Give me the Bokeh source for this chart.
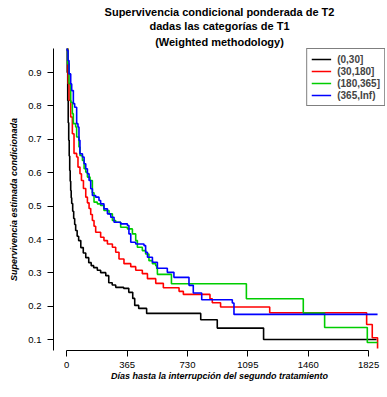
from bokeh.plotting import figure
from bokeh.models import FixedTicker, Range1d, Legend, LegendItem, Title
from bokeh.embed import file_html
from bokeh.resources import INLINE

groups = ["(0,30]", "(30,180]", "(180,365]", "(365,Inf)"]
colors = ["#000000", "#FF0000", "#00CD00", "#0000FF"]

title_lines = ["Supervivencia condicional ponderada de T2",
               "dadas las categorías de T1",
               "(Weighted methodology)"]

x_ticks = [0, 365, 730, 1095, 1460, 1825]
y_ticks = [0.1, 0.2, 0.3, 0.4, 0.5, 0.6, 0.7, 0.8, 0.9]

t_g1 = [0, 3, 6, 9, 12, 15, 18, 21, 24, 27, 30, 36, 42, 48, 54, 63, 72, 85, 100, 115,
        133, 148, 163, 185, 205, 236, 254, 275, 296, 344, 375, 399, 411, 435, 483, 810,
        910, 1190, 1873]
s_g1 = [1.0, 0.90, 0.816, 0.75, 0.697, 0.65, 0.607, 0.575, 0.547, 0.525, 0.508, 0.485,
        0.463, 0.445, 0.427, 0.41, 0.397, 0.376, 0.36, 0.346, 0.331, 0.322, 0.316, 0.308,
        0.301, 0.292, 0.271, 0.264, 0.257, 0.254, 0.242, 0.224, 0.203, 0.194, 0.179, 0.160,
        0.135, 0.101, 0.101]

t_g2 = [0, 8, 14, 24, 34, 44, 60, 68, 80, 89, 101, 115, 125, 135, 145, 155, 165, 175, 205,
        225, 246, 276, 296, 316, 346, 387, 417, 457, 488, 538, 584, 679, 705, 866, 880, 930,
        1227, 1813, 1847, 1879]
s_g2 = [1.0, 0.867, 0.817, 0.767, 0.717, 0.658, 0.647, 0.617, 0.597, 0.577, 0.553, 0.527,
        0.51, 0.493, 0.475, 0.457, 0.44, 0.422, 0.407, 0.397, 0.387, 0.377, 0.362, 0.342,
        0.328, 0.319, 0.308, 0.298, 0.283, 0.269, 0.256, 0.245, 0.236, 0.223, 0.211, 0.198,
        0.181, 0.146, 0.106, 0.074]

t_g3 = [0, 6, 14, 24, 34, 40, 54, 60, 74, 80, 95, 105, 115, 125, 141, 155, 165, 185, 205,
        225, 256, 276, 296, 326, 367, 397, 417, 427, 457, 477, 497, 518, 538, 544, 548, 633,
        1086, 1430, 1559, 1817, 1879]
s_g3 = [1.0, 0.926, 0.867, 0.811, 0.777, 0.747, 0.737, 0.707, 0.677, 0.652, 0.637, 0.612,
        0.602, 0.587, 0.577, 0.54, 0.512, 0.507, 0.502, 0.487, 0.477, 0.457, 0.452, 0.437,
        0.432, 0.417, 0.397, 0.377, 0.367, 0.357, 0.337, 0.328, 0.322, 0.313, 0.296, 0.268,
        0.223, 0.180, 0.137, 0.092, 0.092]

t_g4 = [0, 3, 8, 14, 24, 30, 40, 48, 60, 68, 74, 80, 95, 105, 115, 125, 135, 145, 155, 175,
        195, 205, 225, 246, 266, 286, 326, 367, 376, 387, 417, 467, 477, 488, 518, 548, 608,
        648, 739, 765, 816, 1001, 1011, 1879]
s_g4 = [1.0, 0.966, 0.936, 0.896, 0.866, 0.846, 0.807, 0.796, 0.747, 0.737, 0.697, 0.657,
        0.647, 0.627, 0.612, 0.597, 0.577, 0.552, 0.532, 0.527, 0.517, 0.507, 0.492, 0.477,
        0.467, 0.452, 0.447, 0.442, 0.417, 0.392, 0.387, 0.382, 0.362, 0.347, 0.332, 0.314,
        0.302, 0.287, 0.263, 0.240, 0.220, 0.210, 0.176, 0.176]

times = [t_g1, t_g2, t_g3, t_g4]
survs = [s_g1, s_g2, s_g3, s_g4]

FONT = "Liberation Sans"

p = figure(width=385, height=395, output_backend="svg", toolbar_location=None,
           x_range=Range1d(-80, 1927), y_range=Range1d(0.068, 0.972),
           min_border_left=53, min_border_right=0, min_border_top=48, min_border_bottom=45)
p.title.visible = False
# added bottom line first: later titles stack further from the frame
title_standoffs = [0, 1, 2]
for line, so in reversed(list(zip(title_lines, title_standoffs))):
    p.add_layout(Title(text=line, align="center", text_font=FONT, text_font_size="11px",
                       text_font_style="bold", text_color="#000000", standoff=so,
                       offset=0), "above")
p.outline_line_color = None
p.xgrid.visible = False
p.ygrid.visible = False
p.background_fill_color = "white"

renderers = []
for t, s, c in zip(times, survs, colors):
    r = p.step(t, s, mode="after", line_color=c, line_width=1.6)
    renderers.append(r)

legend = Legend(items=[LegendItem(label=g, renderers=[r]) for g, r in zip(groups, renderers)],
                location="top_right", margin=0, padding=4, spacing=0,
                label_text_font=FONT, label_text_font_size="10px", label_text_font_style="bold",
                label_height=12, glyph_height=12, glyph_width=20, label_standoff=6,
                border_line_color="black", border_line_width=1,
                background_fill_color="white", background_fill_alpha=1.0)
p.add_layout(legend)

xa = p.xaxis[0]
xa.ticker = FixedTicker(ticks=x_ticks)
xa.bounds = (0, 1825)
xa.axis_label = "Días hasta la interrupción del segundo tratamiento"
ya = p.yaxis[0]
ya.ticker = FixedTicker(ticks=y_ticks)
ya.axis_label = "Supervivencia estimada condicionada"

for ax in (xa, ya):
    ax.axis_line_color = "#000000"
    ax.major_tick_line_color = "#000000"
    ax.minor_tick_line_color = None
    ax.major_tick_out = 6
    ax.major_tick_in = 0
    ax.major_label_text_font = FONT
    ax.major_label_text_font_size = "9.5px"
    ax.major_label_text_color = "#000000"
    ax.axis_label_text_font = FONT
    ax.axis_label_text_font_size = "9px"
    ax.axis_label_text_font_style = "bold italic"
    ax.axis_label_text_color = "#000000"

xa.major_label_standoff = 5
xa.axis_label_standoff = 0
ya.major_label_standoff = 6
ya.major_label_orientation = "horizontal"
ya.axis_label_standoff = 6

open("out.html", "w").write(file_html(p, INLINE))
